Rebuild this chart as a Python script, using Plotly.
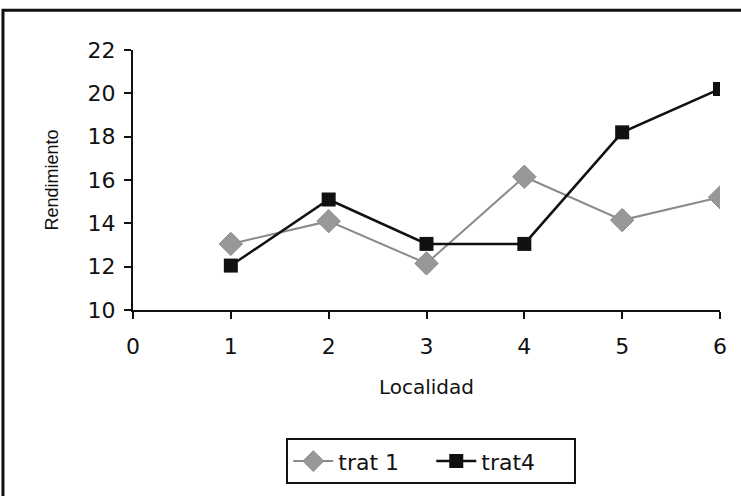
import plotly.graph_objects as go

localidad = [1, 2, 3, 4, 5, 6]
trat1 = [13.05, 14.1, 12.15, 16.15, 14.15, 15.2]
trat4 = [12.05, 15.1, 13.05, 13.05, 18.2, 20.2]
x_ticks = [0, 1, 2, 3, 4, 5, 6]
y_ticks = [10, 12, 14, 16, 18, 20, 22]

fig = go.Figure()
fig.add_trace(go.Scatter(
    x=localidad, y=trat1, name="trat 1", mode="lines+markers",
    line=dict(color="#8a8a8a", width=2),
    marker=dict(symbol="diamond", size=18, color="#989898", line=dict(color="#8a8a8a", width=1)),
))
fig.add_trace(go.Scatter(
    x=localidad, y=trat4, name="trat4", mode="lines+markers",
    line=dict(color="#111111", width=2.5),
    marker=dict(symbol="square", size=14, color="#111111"),
))

tick_font = dict(family="DejaVu Sans, Liberation Sans, sans-serif", color="#111111", size=22)

fig.update_layout(
    width=741, height=496,
    margin=dict(l=133, r=21, t=50, b=186),
    paper_bgcolor="white", plot_bgcolor="white",
    font=dict(family="DejaVu Sans, sans-serif", size=18, color="#111111"),
    showlegend=True,
    legend=dict(
        orientation="h", xref="container", yref="container",
        x=0.582, y=0.07, xanchor="center", yanchor="middle",
        bordercolor="#111111", borderwidth=2, bgcolor="white",
        font=dict(family="DejaVu Sans, sans-serif", size=22, color="#111111"),
        itemwidth=40, tracegroupgap=0, entrywidth=88,
    ),
    xaxis=dict(
        range=[0, 6], tickvals=x_ticks, ticktext=[str(v) for v in x_ticks],
        showline=True, linecolor="#111111", linewidth=2, showgrid=False, zeroline=False,
        ticks="outside", ticklen=7, tickwidth=2, tickcolor="#111111",
        tickfont=tick_font, ticklabelstandoff=9,
        title=dict(text="Localidad", font=dict(family="DejaVu Sans, sans-serif", size=20, color="#111111"), standoff=22),
    ),
    yaxis=dict(
        range=[10, 22], tickvals=y_ticks,
        showline=True, linecolor="#111111", linewidth=2, showgrid=False, zeroline=False,
        ticks="outside", ticklen=7, tickwidth=2, tickcolor="#111111",
        tickfont=tick_font, ticklabelstandoff=4,
        title=dict(text="Rendimiento", font=dict(family="Liberation Sans, Arial, sans-serif", size=18, color="#111111"), standoff=24),
    ),
    shapes=[dict(
        type="rect", xref="paper", yref="paper",
        x0=-0.2215, x1=1.3, y0=-0.8, y1=1.153,
        line=dict(color="#111111", width=3), fillcolor="rgba(0,0,0,0)",
    )],
)

fig.write_html("out.html")
